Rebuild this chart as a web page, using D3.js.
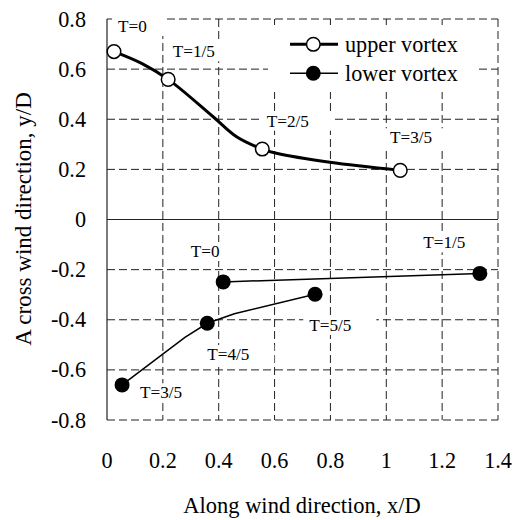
<!DOCTYPE html>
<html>
<head>
<meta charset="utf-8">
<script src="https://cdn.jsdelivr.net/npm/d3@7"></script>
</head>
<body style="margin:0">
<svg id="s" width="520" height="520"></svg>
<script>
// ---- data ----
const xTicks = [0, 0.2, 0.4, 0.6, 0.8, 1, 1.2, 1.4];
const yTicks = [-0.8, -0.6, -0.4, -0.2, 0, 0.2, 0.4, 0.6, 0.8];

// upper vortex: path points (smoothed line) and marked points
const upperPathX = [0.025, 0.124, 0.219, 0.38, 0.464, 0.556, 0.607, 0.798, 1.05];
const upperPathY = [0.67, 0.623, 0.559, 0.41, 0.33, 0.281, 0.264, 0.228, 0.196];
const upperMarkX = [0.025, 0.219, 0.556, 1.05];
const upperMarkY = [0.67, 0.559, 0.281, 0.196];
const upperLabels = ["T=0", "T=1/5", "T=2/5", "T=3/5"];

// lower vortex: two path segments and marked points
const lowerPath1X = [0.416, 1.335];
const lowerPath1Y = [-0.249, -0.215];
const lowerPath2X = [0.054, 0.279, 0.359, 0.456, 0.745];
const lowerPath2Y = [-0.66, -0.47, -0.414, -0.376, -0.298];
const lowerMarkX = [0.416, 1.335, 0.054, 0.359, 0.745];
const lowerMarkY = [-0.249, -0.215, -0.66, -0.414, -0.298];
const lowerLabels = ["T=0", "T=1/5", "T=3/5", "T=4/5", "T=5/5"];

const seriesNames = ["upper vortex", "lower vortex"];
const xTitle = "Along wind direction, x/D";
const yTitle = "A cross wind direction, y/D";

// ---- layout ----
const fams = ["Liberation Serif"];
const FONT = `"${fams[0]}"`;
const svg = d3.select("#s");
const x = d3.scaleLinear().domain([0, 1.4]).range([107, 498]);
const y = d3.scaleLinear().domain([-0.8, 0.8]).range([420, 19]);
const fmt = d => String(+d.toFixed(1));

// gridlines (dashed)
const grid = svg.append("g").attr("stroke", "#222").attr("stroke-width", 1)
  .attr("stroke-dasharray", "8,4").attr("fill", "none");
grid.selectAll("line.h").data(yTicks.filter(d => d !== 0)).join("line")
  .attr("class", "h")
  .attr("x1", x(0)).attr("x2", x(1.4))
  .attr("y1", d => y(d)).attr("y2", d => y(d));
grid.selectAll("line.v").data(xTicks.filter(d => d !== 0)).join("line")
  .attr("class", "v")
  .attr("x1", d => x(d)).attr("x2", d => x(d))
  .attr("y1", y(0.8)).attr("y2", y(-0.8));

// data label boxes (white, like Excel labels)
const labelPos = [
  ["u", 0, 118, 32], ["u", 1, 172.7, 57.3], ["u", 2, 266.7, 126.7], ["u", 3, 390, 143.3],
  ["l", 0, 190.7, 257], ["l", 1, 423.3, 248.3], ["l", 2, 140, 398.3], ["l", 3, 207.3, 360], ["l", 4, 309.3, 331]
];
const labTexts = labelPos.map(p => ({
  text: p[0] === "u" ? upperLabels[p[1]] : lowerLabels[p[1]], x: p[2], y: p[3]
}));
svg.append("g").selectAll("rect").data(labTexts).join("rect").attr("fill", "#fff")
  .attr("x", d => d.x - 6).attr("y", d => d.y - 15)
  .attr("width", d => d.text.length * 9 + 28).attr("height", 19);

// solid axes: left axis and zero line
svg.append("line").attr("x1", x(0)).attr("x2", x(0)).attr("y1", y(0.8)).attr("y2", y(-0.8))
  .attr("stroke", "#222").attr("stroke-width", 1.2);
svg.append("line").attr("x1", x(0)).attr("x2", x(1.4)).attr("y1", y(0)).attr("y2", y(0))
  .attr("stroke", "#222").attr("stroke-width", 1.2);

// tick labels
yTicks.forEach(d => {
  svg.append("text").attr("x", 86).attr("y", y(d) + 7.5).attr("text-anchor", "end")
    .attr("font-size", 22.2).style("font-family", FONT).text(fmt(d));
});
xTicks.forEach(d => {
  svg.append("text").attr("x", x(d)).attr("y", 468).attr("text-anchor", "middle")
    .attr("font-size", 22.2).style("font-family", FONT).text(fmt(d));
});

// axis titles
svg.append("text").attr("x", 302).attr("y", 513).attr("text-anchor", "middle")
  .attr("font-size", 22.5).style("font-family", FONT).text(xTitle);
svg.append("text").attr("transform", "translate(31,219) rotate(-90)")
  .attr("text-anchor", "middle").attr("font-size", 23).style("font-family", FONT).text(yTitle);

// lines
const lineSmooth = d3.line().x(d => x(d[0])).y(d => y(d[1])).curve(d3.curveCatmullRom.alpha(0.5));
const lineStraight = d3.line().x(d => x(d[0])).y(d => y(d[1]));
svg.append("path").datum(d3.zip(upperPathX, upperPathY)).attr("d", lineSmooth)
  .attr("fill", "none").attr("stroke", "#000").attr("stroke-width", 3);
svg.append("path").datum(d3.zip(lowerPath1X, lowerPath1Y)).attr("d", lineStraight)
  .attr("fill", "none").attr("stroke", "#000").attr("stroke-width", 1.5);
svg.append("path").datum(d3.zip(lowerPath2X, lowerPath2Y)).attr("d", lineStraight)
  .attr("fill", "none").attr("stroke", "#000").attr("stroke-width", 1.5);

// markers
d3.zip(upperMarkX, upperMarkY).forEach(d => {
  svg.append("circle").attr("cx", x(d[0])).attr("cy", y(d[1])).attr("r", 6.8)
    .attr("fill", "#fff").attr("stroke", "#000").attr("stroke-width", 1.5);
});
d3.zip(lowerMarkX, lowerMarkY).forEach(d => {
  svg.append("circle").attr("cx", x(d[0])).attr("cy", y(d[1])).attr("r", 7.5).attr("fill", "#000");
});

// label texts
labTexts.forEach(d => {
  svg.append("text").attr("x", d.x).attr("y", d.y).attr("font-size", 17.2)
    .style("font-family", FONT).text(d.text);
});

// legend
svg.append("rect").attr("x", 268).attr("y", 25).attr("width", 210).attr("height", 67).attr("fill", "#fff");
const legRows = [
  { name: seriesNames[0], y: 44.3, w: 3, open: true },
  { name: seriesNames[1], y: 73.3, w: 1.5, open: false }
];
legRows.forEach(r => {
  svg.append("line").attr("x1", 290).attr("x2", 338).attr("y1", r.y).attr("y2", r.y)
    .attr("stroke", "#000").attr("stroke-width", r.w);
  svg.append("circle").attr("cx", 313.3).attr("cy", r.y).attr("r", r.open ? 6.8 : 7.5)
    .attr("fill", r.open ? "#fff" : "#000").attr("stroke", "#000").attr("stroke-width", r.open ? 1.5 : 0);
  svg.append("text").attr("x", 345).attr("y", r.y + 7.5).attr("font-size", 22.2)
    .style("font-family", FONT).text(r.name);
});
</script>
</body>
</html>
